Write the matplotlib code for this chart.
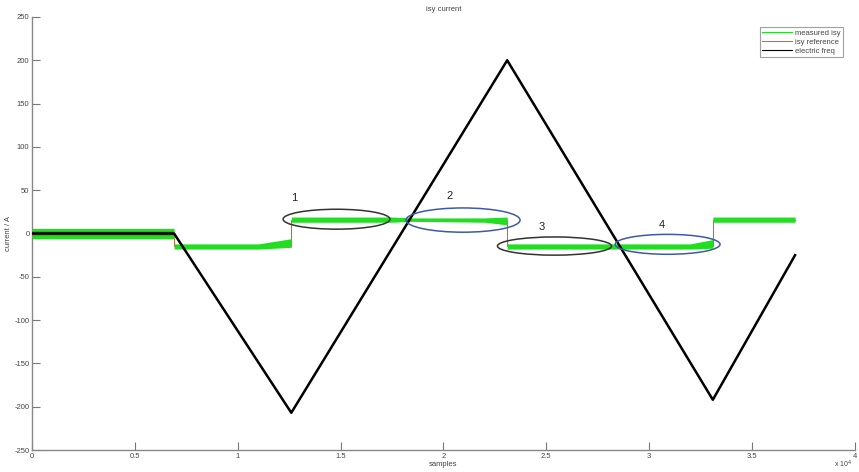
import numpy as np
import matplotlib
matplotlib.use("Agg")
from matplotlib import pyplot as plt
from matplotlib.patches import Ellipse

plt.rcParams['font.family'] = ['Liberation Sans', 'DejaVu Sans']
plt.rcParams['axes.unicode_minus'] = False

# electric freq (black), sample index in units of 1e4
freq_x = [0, 0.69, 1.26, 2.31, 3.31, 3.71]
freq_y = [0, 0, -207, 200, -192, -25]

# isy reference (red step)
ref_x = [0, 0.69, 0.69, 1.26, 1.26, 2.31, 2.31, 3.31, 3.31, 3.71]
ref_y = [0, 0, -15, -15, 16, 16, -15, -15, 16, 16]

# measured isy (green) as a band: upper / lower envelope
meas_x = [0, 0.69, 0.69, 1.10, 1.26, 1.26, 1.75, 1.85, 2.20, 2.31, 2.31, 3.20, 3.31, 3.31, 3.71]
meas_hi = [6, 6, -12, -12, -6, 19, 19, 18, 18, 19, -12, -12, -7, 19, 19]
meas_lo = [-6, -6, -18, -18, -16, 13, 13, 14, 13, 10, -18, -18, -17, 13, 13]

# annotated regions: centre x, centre y, width, height, colour, label
ell_cx = [1.48, 2.095, 2.54, 3.09]
ell_cy = [16.5, 15.5, -14.5, -12.5]
ell_w = [0.52, 0.555, 0.555, 0.51]
ell_h = [23, 28, 21, 23]
ell_col = ['#333333', '#3d5aa8', '#333333', '#3d5aa8']
lab_x = [1.275, 2.03, 2.48, 3.06]
lab_y = [41, 43, 8, 10]
lab_txt = ['1', '2', '3', '4']


def main():
    fig = plt.figure(figsize=(8.59, 4.72), dpi=100)
    ax = fig.add_axes([0.0375, 0.0466, 0.9575, 0.9174])

    ax.plot(ref_x, ref_y, color='#cc6655', lw=0.8, label='isy reference', zorder=2)
    ax.fill_between(meas_x, meas_lo, meas_hi, color='#22dd22', lw=0, zorder=3)
    ax.fill_between(meas_x[:2], [-3, -3], [3, 3], color='#aa5533', alpha=0.5, lw=0, zorder=3)
    ax.plot(freq_x, freq_y, color='black', lw=1.8, label='electric freq', zorder=4)

    for cx, cy, w, h, c in zip(ell_cx, ell_cy, ell_w, ell_h, ell_col):
        ax.add_patch(Ellipse((cx, cy), w, h, fill=False, ec=c, lw=1.1, zorder=5))
    for x, y, t in zip(lab_x, lab_y, lab_txt):
        ax.text(x, y, t, fontsize=8, color='#222222', ha='center', va='center')

    ax.set_xlim(0, 4)
    ax.set_ylim(-250, 250)
    ax.set_xticks(np.arange(0, 4.01, 0.5))
    ax.set_xticklabels(['0', '0.5', '1', '1.5', '2', '2.5', '3', '3.5', '4'])
    ax.set_yticks(np.arange(-250, 251, 50))
    ax.tick_params(direction='in', length=6, width=0.8, labelsize=5.5,
                   colors='#777777', labelcolor='#444444', pad=2)
    for s in ['top', 'right']:
        ax.spines[s].set_visible(False)
    for s in ['left', 'bottom']:
        ax.spines[s].set_color('#888888')
        ax.spines[s].set_linewidth(1.0)

    ax.set_title('isy current', fontsize=5.5, color='#444444', pad=4)
    ax.set_xlabel('samples', fontsize=5.5, color='#444444', labelpad=1)
    ax.set_ylabel('current / A', fontsize=5.5, color='#444444', labelpad=2)
    ax.text(0.997, -0.034, r'x 10$^4$', transform=ax.transAxes, fontsize=5,
            color='#444444', ha='right', va='center')

    # legend handles are thin lines, in plotting order
    h_meas, = ax.plot([], [], color='#22dd22', lw=0.8)
    h_ref, = ax.plot([], [], color='#cc6655', lw=0.8)
    h_freq, = ax.plot([], [], color='black', lw=0.8)
    leg = ax.legend([h_meas, h_ref, h_freq],
                    ['measured isy', 'isy reference', 'electric freq'],
                    loc='upper right', fontsize=5.5, frameon=True, fancybox=False,
                    edgecolor='#888888', handlelength=4, borderpad=0.3,
                    labelspacing=0.2, handletextpad=0.3, bbox_to_anchor=(0.99, 0.985))
    leg.get_frame().set_linewidth(0.8)
    for t in leg.get_texts():
        t.set_color('#444444')

    plt.savefig('out.png', dpi=100)


if __name__ == '__main__':
    main()
